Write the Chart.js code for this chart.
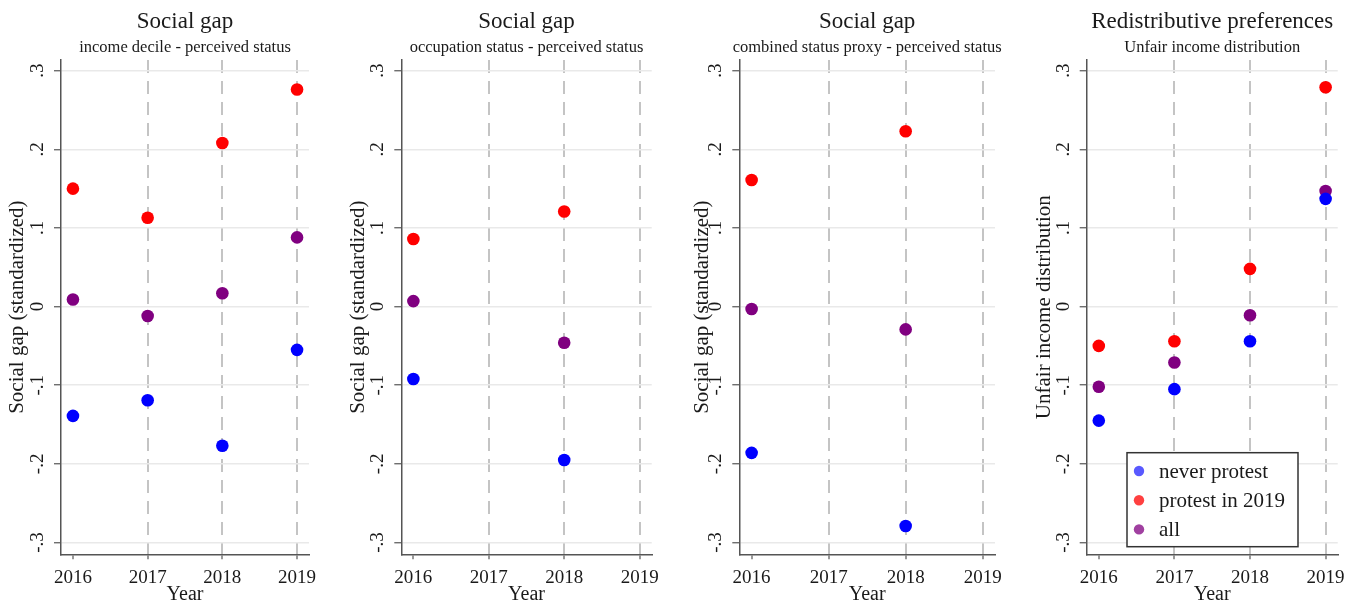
<!DOCTYPE html>
<html>
<head>
<meta charset="utf-8">
<title>Social gap and redistributive preferences, 2016–2019</title>
<script src="https://cdn.jsdelivr.net/npm/chart.js@4/dist/chart.umd.min.js"></script>
<style>
  html, body { margin: 0; padding: 0; background: #ffffff; }
  #wrap { position: relative; width: 1361px; height: 605px; overflow: hidden; background: #ffffff; }
  #wrap canvas { position: absolute; top: 0; }
</style>
</head>
<body>
<div id="wrap">
  <canvas id="p1" width="340" height="605" style="left:0px"></canvas>
  <canvas id="p2" width="340" height="605" style="left:340px"></canvas>
  <canvas id="p3" width="340" height="605" style="left:680px"></canvas>
  <canvas id="p4" width="341" height="605" style="left:1020px"></canvas>
</div>
<script>
// ---- data ----
const years = [2016, 2017, 2018, 2019];
const yTicks = [-0.3, -0.2, -0.1, 0, 0.1, 0.2, 0.3];
const yTickLabels = ['-.3', '-.2', '-.1', '0', '.1', '.2', '.3'];

const seriesLabels = ['never protest', 'protest in 2019', 'all'];
const seriesColors = ['#0000ff', '#ff0000', '#800080'];
const legendColors = ['rgba(0,0,255,0.65)', 'rgba(255,0,0,0.75)', 'rgba(128,0,128,0.75)'];

// income decile - perceived status
const incomeNever   = [-0.139, -0.119, -0.177, -0.055];
const incomeProtest = [0.150, 0.113, 0.208, 0.276];
const incomeAll     = [0.009, -0.012, 0.017, 0.088];

// occupation status - perceived status
const occupNever   = [-0.092, null, -0.195, null];
const occupProtest = [0.086, null, 0.121, null];
const occupAll     = [0.007, null, -0.046, null];

// combined status proxy - perceived status
const combinedNever   = [-0.186, null, -0.279, null];
const combinedProtest = [0.161, null, 0.223, null];
const combinedAll     = [-0.003, null, -0.029, null];

// unfair income distribution
const unfairNever   = [-0.145, -0.105, -0.044, 0.137];
const unfairProtest = [-0.050, -0.044, 0.048, 0.279];
const unfairAll     = [-0.102, -0.071, -0.011, 0.147];

// ---- panels ----
const panels = [
  { id: 'p1', width: 340, title: 'Social gap', subtitle: 'income decile - perceived status',
    yTitle: 'Social gap (standardized)', series: [incomeNever, incomeProtest, incomeAll],
    areaLeft: 61, areaRight: 309, yTitleGap: 43.5, legend: false },
  { id: 'p2', width: 340, title: 'Social gap', subtitle: 'occupation status - perceived status',
    yTitle: 'Social gap (standardized)', series: [occupNever, occupProtest, occupAll],
    areaLeft: 61.3, areaRight: 311.7, yTitleGap: 43, legend: false },
  { id: 'p3', width: 340, title: 'Social gap', subtitle: 'combined status proxy - perceived status',
    yTitle: 'Social gap (standardized)', series: [combinedNever, combinedProtest, combinedAll],
    areaLeft: 59.3, areaRight: 315, yTitleGap: 37, legend: false },
  { id: 'p4', width: 341, title: 'Redistributive preferences', subtitle: 'Unfair income distribution',
    yTitle: 'Unfair income distribution', series: [unfairNever, unfairProtest, unfairAll],
    areaLeft: 66.7, areaRight: 317.7, yTitleGap: 42.5, legend: true }
];

const FONT = "'Liberation Serif', 'Times New Roman', serif";
const AREA_TOP = 60;
const AREA_BOTTOM = 554.3;
const CANVAS_H = 605;
const Y_AXIS_W = 30;
const X_AXIS_H = 40;

Chart.defaults.font.family = FONT;
Chart.defaults.color = '#222222';

// Titles, rotated y labels, axis titles and the in-plot legend
const panelDecor = {
  id: 'panelDecor',
  afterDraw(chart, args, o) {
    const ctx = chart.ctx;
    const ca = chart.chartArea;
    const cx = (ca.left + ca.right) / 2;
    const ys = chart.scales.y;

    ctx.save();
    ctx.fillStyle = '#1a1a1a';
    ctx.textAlign = 'center';
    ctx.textBaseline = 'alphabetic';

    // title + subtitle
    ctx.font = '23px ' + FONT;
    ctx.fillText(o.title, cx, 27.5);
    ctx.font = '16.5px ' + FONT;
    ctx.fillText(o.subtitle, cx, 51.5);

    // x axis title
    ctx.font = '20px ' + FONT;
    ctx.fillText('Year', cx, 600);

    // y tick labels, rotated
    ctx.font = '19px ' + FONT;
    yTicks.forEach((v, i) => {
      const py = ys.getPixelForValue(v);
      ctx.save();
      ctx.translate(ca.left - 18, py);
      ctx.rotate(-Math.PI / 2);
      ctx.fillText(yTickLabels[i], 0, 0);
      ctx.restore();
    });

    // y axis title, rotated
    ctx.font = '21px ' + FONT;
    ctx.textBaseline = 'middle';
    ctx.save();
    ctx.translate(ca.left - o.yTitleGap, (ca.top + ca.bottom) / 2);
    ctx.rotate(-Math.PI / 2);
    ctx.fillText(o.yTitle, 0, 0);
    ctx.restore();

    // legend box
    if (o.legend) {
      const bx = ca.left + 40.3, by = 452.7, bw = 171, bh = 94;
      ctx.fillStyle = '#ffffff';
      ctx.fillRect(bx, by, bw, bh);
      ctx.strokeStyle = '#333333';
      ctx.lineWidth = 1.5;
      ctx.strokeRect(bx, by, bw, bh);
      ctx.font = '21px ' + FONT;
      ctx.textAlign = 'left';
      ctx.textBaseline = 'alphabetic';
      seriesLabels.forEach((lab, i) => {
        const cy = by + 18.3 + i * 29.2;
        ctx.beginPath();
        ctx.arc(bx + 12, cy, 5.2, 0, Math.PI * 2);
        ctx.fillStyle = legendColors[i];
        ctx.fill();
        ctx.fillStyle = '#1a1a1a';
        ctx.fillText(lab, bx + 32, cy + 6.5);
      });
    }
    ctx.restore();
  }
};

function toPoints(arr) {
  return years.map((x, i) => ({ x: x, y: arr[i] })).filter(p => p.y !== null);
}

panels.forEach(p => {
  const datasets = p.series.map((arr, i) => ({
    label: seriesLabels[i],
    data: toPoints(arr),
    backgroundColor: seriesColors[i],
    borderWidth: 0,
    pointRadius: 6.3,
    pointHoverRadius: 6.3
  }));

  new Chart(document.getElementById(p.id), {
    type: 'scatter',
    data: { datasets: datasets },
    plugins: [panelDecor],
    options: {
      responsive: false,
      animation: false,
      events: [],
      layout: {
        padding: {
          left: p.areaLeft - Y_AXIS_W,
          right: p.width - p.areaRight,
          top: AREA_TOP,
          bottom: CANVAS_H - AREA_BOTTOM - X_AXIS_H
        }
      },
      plugins: {
        legend: { display: false },
        tooltip: { enabled: false },
        title: { display: false },
        panelDecor: {
          title: p.title, subtitle: p.subtitle, yTitle: p.yTitle,
          yTitleGap: p.yTitleGap, legend: p.legend
        }
      },
      scales: {
        x: {
          type: 'linear',
          min: 2015.84,
          max: 2019.16,
          afterBuildTicks: s => { s.ticks = years.map(v => ({ value: v })); },
          afterFit: s => { s.height = X_AXIS_H; },
          ticks: {
            color: '#1a1a1a',
            font: { size: 19, family: FONT },
            padding: 7,
            maxRotation: 0,
            autoSkip: false,
            callback: v => String(v)
          },
          grid: {
            color: c => (c.tick && c.tick.value === years[0]) ? 'rgba(0,0,0,0)' : '#c4c4c4',
            lineWidth: 2,
            drawTicks: true,
            tickLength: 5,
            tickColor: '#555555',
            tickWidth: 1.2,
            tickBorderDash: []
          },
          border: { display: true, color: '#555555', width: 1.5, dash: [13, 8] }
        },
        y: {
          type: 'linear',
          min: -0.315,
          max: 0.3136,
          afterBuildTicks: s => { s.ticks = yTicks.map(v => ({ value: v })); },
          afterFit: s => { s.width = Y_AXIS_W; },
          ticks: { display: false },
          grid: {
            color: '#e9e9e9',
            lineWidth: 1.5,
            drawTicks: true,
            tickLength: 7,
            tickColor: '#555555',
            tickWidth: 1.2,
            tickBorderDash: []
          },
          border: { display: true, color: '#555555', width: 1.5 }
        }
      }
    }
  });
});
</script>
</body>
</html>
